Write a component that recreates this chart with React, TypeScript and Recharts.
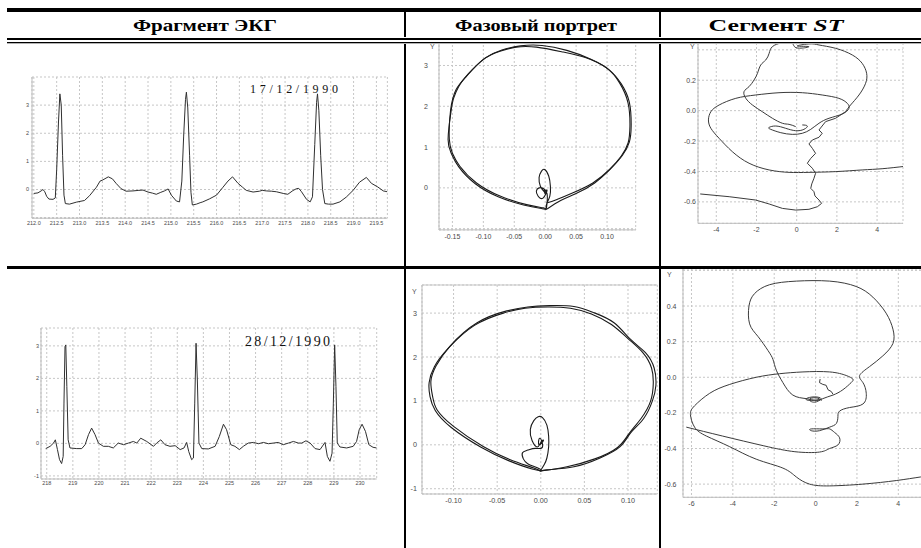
import React from 'react';
import { LineChart, Line, XAxis, YAxis, CartesianGrid, ReferenceLine } from 'recharts';

type Pt = [number, number];

// ---------- column headers ----------
const headers = ['Фрагмент ЭКГ', 'Фазовый портрет', 'Сегмент '];
const dateLabels = ['17/12/1990', '28/12/1990'];

// ---------- ECG fragment 1 (time, mV) ----------
const ecg1: Pt[] = [
  [212.0,-0.14],[212.09,-0.12],[212.16,-0.05],[212.2,0.0],[212.24,-0.08],[212.28,-0.24],[212.33,-0.34],[212.42,-0.35],
  [212.47,-0.3],[212.5,0.7],[212.54,2.4],[212.57,3.4],[212.6,3.0],[212.63,1.2],[212.66,-0.2],[212.69,-0.5],[212.78,-0.52],
  [212.93,-0.45],[213.11,-0.39],[213.22,-0.22],[213.37,0.08],[213.45,0.3],[213.51,0.34],[213.63,0.45],[213.72,0.38],
  [213.8,0.22],[213.91,0.03],[214.02,-0.06],[214.17,-0.05],[214.3,-0.03],[214.39,-0.02],[214.5,-0.09],[214.6,-0.13],
  [214.68,-0.17],[214.78,-0.1],[214.86,-0.05],[214.94,0.02],[215.01,-0.2],[215.12,-0.41],[215.19,-0.44],[215.24,0.3],
  [215.28,1.9],[215.32,3.2],[215.34,3.46],[215.37,2.9],[215.41,1.2],[215.44,-0.1],[215.47,-0.55],[215.56,-0.52],
  [215.64,-0.47],[215.7,-0.44],[215.85,-0.33],[216.0,-0.2],[216.14,0.08],[216.25,0.3],[216.35,0.45],[216.47,0.22],
  [216.57,0.08],[216.65,-0.03],[216.8,-0.09],[216.94,-0.06],[217.0,-0.03],[217.09,-0.05],[217.2,-0.06],[217.31,-0.08],
  [217.46,-0.14],[217.56,-0.17],[217.67,-0.04],[217.75,0.03],[217.8,0.04],[217.86,-0.08],[217.97,-0.35],[218.05,-0.44],
  [218.1,-0.26],[218.15,1.6],[218.19,3.1],[218.21,3.4],[218.24,2.8],[218.28,1.2],[218.32,0.0],[218.37,-0.5],[218.45,-0.52],
  [218.55,-0.52],[218.7,-0.44],[218.84,-0.27],[218.99,-0.03],[219.13,0.26],[219.28,0.43],[219.39,0.22],[219.53,0.09],
  [219.65,-0.05],[219.74,-0.08],
];
const ecg1XTicks = [212,212.5,213,213.5,214,214.5,215,215.5,216,216.5,217,217.5,218,218.5,219,219.5];
const ecg1YTicks = [-1,0,1,2,3];

// ---------- ECG fragment 2 ----------
const ecg2: Pt[] = [
  [217.96,-0.16],[218.13,-0.09],[218.26,0.01],[218.33,0.11],[218.41,-0.19],[218.49,-0.5],[218.57,-0.62],[218.63,-0.4],
  [218.66,1.24],[218.7,2.98],[218.73,3.03],[218.77,1.75],[218.82,0.11],[218.89,-0.14],[219.15,-0.16],[219.34,-0.16],
  [219.47,-0.04],[219.6,0.27],[219.72,0.47],[219.85,0.27],[219.98,0.01],[220.17,-0.09],[220.36,-0.09],[220.55,-0.14],
  [220.74,0.01],[220.94,-0.04],[221.13,0.01],[221.32,0.06],[221.45,0.01],[221.6,0.16],[221.83,0.06],[222.09,-0.09],
  [222.21,0.01],[222.37,0.11],[222.53,-0.04],[222.72,-0.09],[222.92,-0.07],[223.11,-0.19],[223.26,-0.14],[223.36,0.03],
  [223.44,-0.25],[223.55,-0.5],[223.62,-0.45],[223.67,1.24],[223.72,3.08],[223.77,1.95],[223.83,0.01],[223.94,-0.16],
  [224.19,-0.17],[224.45,-0.09],[224.61,0.21],[224.77,0.59],[224.89,0.42],[225.05,-0.04],[225.21,-0.09],[225.38,-0.19],
  [225.53,-0.09],[225.72,0.01],[225.92,0.03],[226.11,-0.01],[226.3,0.03],[226.49,-0.01],[226.68,0.01],[226.87,0.03],
  [227.06,-0.04],[227.26,0.01],[227.45,0.06],[227.64,0.01],[227.77,0.01],[227.93,0.08],[228.09,0.01],[228.28,-0.16],
  [228.47,-0.19],[228.66,0.03],[228.75,-0.4],[228.85,-0.55],[228.93,-0.3],[228.98,1.24],[229.03,3.03],[229.08,1.75],
  [229.13,0.01],[229.23,-0.11],[229.49,-0.14],[229.74,-0.09],[229.87,0.06],[229.97,0.42],[230.08,0.59],[230.21,0.37],
  [230.34,-0.04],[230.5,-0.12],[230.64,-0.14],
];
const ecg2XTicks = [218,219,220,221,222,223,224,225,226,227,228,229,230];
const ecg2YTicks = [-1,0,1,2,3];

// ---------- phase portrait 1 (dY, Y) ----------
const phase1LoopA: Pt[] = [
  [0.002,-0.37],[0.018,-0.29],[0.045,-0.12],[0.077,0.12],[0.104,0.45],[0.123,0.78],[0.134,1.1],[0.137,1.51],[0.134,2.08],
  [0.12,2.58],[0.099,2.94],[0.066,3.19],[0.029,3.33],[-0.014,3.45],[-0.047,3.45],[-0.073,3.35],[-0.1,3.15],[-0.127,2.74],
  [-0.144,2.41],[-0.153,1.9],[-0.155,1.19],[-0.15,0.85],[-0.138,0.53],[-0.111,0.12],[-0.073,-0.2],[-0.03,-0.41],
  [-0.003,-0.49],[0.002,-0.53],
];
const phase1LoopB: Pt[] = [
  [0.003,-0.52],[0.025,-0.31],[0.05,-0.14],[0.08,0.12],[0.106,0.47],[0.125,0.8],[0.136,1.12],[0.139,1.52],[0.136,2.1],
  [0.123,2.55],[0.103,2.9],[0.073,3.16],[0.035,3.37],[-0.005,3.49],[-0.04,3.48],[-0.07,3.38],[-0.097,3.18],[-0.124,2.8],
  [-0.14,2.48],[-0.148,2.2],[-0.152,1.9],[-0.157,1.2],[-0.152,0.85],[-0.14,0.52],[-0.113,0.1],[-0.076,-0.22],
  [-0.035,-0.42],[-0.005,-0.51],[0.002,-0.53],
];
const phase1Small: Pt[] = [
  [0.002,-0.53],[0.002,-0.41],[0.0075,-0.2],[0.0084,0.04],[0.0057,0.29],[-0.0008,0.45],[-0.006,0.41],[-0.0099,0.25],
  [-0.0078,0.04],[-0.0024,-0.08],[0.001,-0.14],[-0.002,-0.05],[0.002,-0.1],[-0.001,-0.12],[0.003,-0.06],[-0.0035,-0.25],
  [-0.0116,-0.2],[-0.0143,-0.08],[-0.0099,0.0],[-0.0024,-0.02],[0.003,-0.14],[0.003,-0.37],[0.002,-0.49],
];
const phase1XTicks = [-0.15,-0.1,-0.05,0,0.05,0.1];
const phase1YTicks = [-1,0,1,2,3];

// ---------- phase portrait 2 ----------
const phase2LoopA: Pt[] = [
  [0.0,-0.61],[0.007,-0.57],[0.038,-0.5],[0.068,-0.3],[0.091,-0.04],[0.103,0.27],[0.118,0.6],[0.128,1.0],[0.132,1.35],
  [0.13,1.75],[0.12,2.1],[0.103,2.4],[0.084,2.78],[0.061,3.01],[0.038,3.15],[0.01,3.17],[-0.015,3.14],[-0.039,3.05],
  [-0.073,2.78],[-0.104,2.25],[-0.12,1.8],[-0.126,1.45],[-0.124,1.1],[-0.119,0.8],[-0.1,0.42],[-0.066,-0.04],
  [-0.035,-0.34],[-0.008,-0.53],[0.0,-0.61],
];
const phase2LoopB: Pt[] = [
  [0.002,-0.59],[0.03,-0.5],[0.062,-0.32],[0.088,-0.06],[0.101,0.25],[0.115,0.6],[0.126,1.0],[0.129,1.4],[0.127,1.75],
  [0.117,2.1],[0.1,2.42],[0.081,2.74],[0.058,2.98],[0.034,3.11],[0.008,3.14],[-0.018,3.11],[-0.043,3.0],[-0.076,2.72],
  [-0.106,2.2],[-0.122,1.78],[-0.128,1.42],[-0.127,1.1],[-0.121,0.78],[-0.103,0.4],[-0.069,-0.05],[-0.037,-0.36],
  [-0.01,-0.55],[0.002,-0.59],
];
const phase2Small: Pt[] = [
  [0.0,-0.58],[0.004,-0.45],[0.007,-0.3],[0.009,-0.05],[0.009,0.2],[0.007,0.45],[0.002,0.62],[-0.003,0.64],[-0.008,0.55],
  [-0.012,0.35],[-0.01,0.1],[-0.004,-0.05],[0.0,0.05],[0.003,0.1],[-0.002,0.0],[-0.001,0.15],[0.002,-0.05],[-0.006,-0.08],
  [-0.015,-0.12],[-0.021,-0.18],[-0.02,-0.32],[-0.015,-0.43],[-0.007,-0.5],[0.0,-0.56],
];
const phase2XTicks = [-0.1,-0.05,0,0.05,0.1];
const phase2YTicks = [-1,0,1,2,3];

// ---------- ST segment 1 ----------
const st1Tail: Pt[] = [
  [-4.8,-0.548],[-3.36,-0.566],[-2.04,-0.588],[-1.37,-0.614],[-0.71,-0.643],[-0.05,-0.654],[0.61,-0.649],[1.03,-0.632],
  [1.24,-0.61],[1.11,-0.588],[0.91,-0.561],[0.86,-0.533],[0.7,-0.511],[0.75,-0.482],[0.86,-0.445],[0.94,-0.412],
  [0.78,-0.379],[0.53,-0.346],[0.7,-0.314],[0.94,-0.281],[0.78,-0.248],[0.61,-0.219],[0.78,-0.193],[1.11,-0.175],
  [1.27,-0.149],[1.11,-0.127],[1.44,-0.072],[1.94,-0.05],[2.43,-0.007],
];
const st1Upper: Pt[] = [
  [2.43,-0.007],[2.68,0.037],[3.1,0.103],[3.43,0.18],[3.48,0.246],[3.26,0.311],[2.77,0.366],[1.94,0.41],[1.11,0.432],
  [0.61,0.439],[0.03,0.425],[0.61,0.421],[0.03,0.412],[-0.22,0.443],[-0.71,0.447],[-1.21,0.421],[-1.37,0.377],
  [-1.54,0.333],[-1.79,0.3],[-1.95,0.246],[-2.12,0.202],[-2.37,0.158],[-2.62,0.125],[-2.53,0.081],[-2.2,0.037],
  [-1.71,-0.007],[-1.21,-0.05],[-0.71,-0.083],[-0.38,-0.09],[-0.05,-0.105],
];
const st1Loop: Pt[] = [
  [5.4,-0.366],[4.25,-0.382],[3.26,-0.39],[1.94,-0.401],[0.61,-0.406],[-0.38,-0.406],[-1.37,-0.39],[-2.37,-0.346],
  [-3.2,-0.27],[-3.86,-0.182],[-4.27,-0.116],[-4.39,-0.061],[-4.27,-0.007],[-3.86,0.037],[-3.03,0.081],[-2.04,0.103],
  [-0.88,0.118],[0.28,0.118],[1.27,0.103],[2.1,0.081],[2.52,0.048],[2.6,0.015],[2.27,-0.022],[1.61,-0.05],[1.11,-0.083],
  [0.7,-0.123],[0.28,-0.149],[-0.22,-0.156],[-0.79,-0.145],[-1.29,-0.123],[-1.37,-0.11],[-1.04,-0.101],[-0.55,-0.116],
  [-0.05,-0.132],[0.36,-0.123],[0.53,-0.101],[0.28,-0.094],
];
const st1XTicks = [-4,-2,0,2,4];
const st1YTicks = [-0.6,-0.4,-0.2,0,0.2,0.4];

// ---------- ST segment 2 ----------
const st2Upper: Pt[] = [
  [-6.25,-0.28],[-4.5,-0.33],[-2.5,-0.385],[-1.0,-0.418],[0.19,-0.42],[0.68,-0.4],[1.08,-0.38],[1.16,-0.34],[0.92,-0.31],
  [0.68,-0.29],[0.35,-0.29],[-0.21,-0.29],[-0.21,-0.3],[0.19,-0.3],[0.68,-0.28],[1.0,-0.26],[1.08,-0.22],[1.16,-0.19],
  [1.64,-0.17],[2.29,-0.15],[2.45,-0.09],[2.29,-0.03],[2.13,0.01],[2.61,0.06],[3.25,0.12],[3.74,0.19],[3.74,0.27],
  [3.41,0.36],[2.77,0.45],[1.96,0.51],[0.68,0.54],[-0.93,0.54],[-2.22,0.52],[-2.95,0.47],[-3.22,0.4],[-3.19,0.3],
  [-2.79,0.23],[-2.3,0.15],[-2.06,0.1],[-1.9,0.04],[-1.58,-0.03],[-1.1,-0.1],[-0.45,-0.12],[0.03,-0.13],[0.27,-0.12],
  [-0.05,-0.11],[-0.45,-0.12],[-0.29,-0.13],[0.2,-0.125],
];
const st2Lower: Pt[] = [
  [6.0,-0.545],[5.07,-0.56],[3.9,-0.58],[2.29,-0.6],[0.68,-0.61],[-0.29,-0.6],[-0.93,-0.56],[-1.58,-0.51],[-2.87,-0.46],
  [-4.15,-0.39],[-5.28,-0.33],[-5.85,-0.28],[-6.05,-0.21],[-5.85,-0.16],[-5.12,-0.09],[-4.15,-0.04],[-2.87,0.0],
  [-1.74,0.02],[-0.61,0.03],[0.68,0.03],[1.48,0.01],[1.8,-0.01],[1.72,-0.03],[1.32,-0.07],[0.84,-0.1],[0.35,-0.12],
  [-0.05,-0.14],[-0.3,-0.125],[0.0,-0.115],[0.3,-0.13],
];
const st2Jag: Pt[] = [
  [0.22,-0.01],[0.19,-0.03],[0.35,-0.04],[0.51,-0.045],[0.6,-0.07],[0.76,-0.08],[0.84,-0.095],
];
const st2XTicks = [-6,-4,-2,0,2,4];
const st2YTicks = [-0.6,-0.4,-0.2,0,0.2,0.4,0.6];

// ---------- generic plot ----------
type Box = { x: number; y: number; w: number; h: number };
type Rect = { x0: number; y0: number; x1: number; y1: number };
type Series = { pts: Pt[]; color: string; width: number; curve?: 'linear' | 'natural' };

const SANS = "'Liberation Sans', Arial, sans-serif";
const SERIF = "'Liberation Serif', 'Times New Roman', serif";

function Plot(p: {
  cell: Box; plot: Rect; xDomain: [number, number]; yDomain: [number, number];
  xTicks: number[]; yTicks: number[]; xFmt: (v: number) => string; yFmt: (v: number) => string;
  series: Series[]; fontSize: number; xGap: number; yGap: number; topBorder?: number;
}) {
  const L = 60, T = 20, R = 20, B = 40;
  const w = p.plot.x1 - p.plot.x0 + L + R;
  const h = p.plot.y1 - p.plot.y0 + T + B;
  const left = p.plot.x0 - L - p.cell.x;
  const top = p.plot.y0 - T - p.cell.y;
  const tickStyle = { fontSize: p.fontSize, fill: '#4a4a4a', fontFamily: SANS };
  return (
    <div style={{ position: 'absolute', left: p.cell.x, top: p.cell.y, width: p.cell.w, height: p.cell.h, overflow: 'hidden' }}>
      <div style={{ position: 'absolute', left, top }}>
        <LineChart width={w} height={h} margin={{ top: T, right: R, bottom: 0, left: 0 }}>
          <CartesianGrid stroke="#c6c6c6" strokeDasharray="2 2" />
          <XAxis type="number" dataKey="x" domain={p.xDomain} ticks={p.xTicks} allowDataOverflow interval={0}
            height={B} tickLine={false} tickSize={0} tickMargin={p.xGap} tickFormatter={p.xFmt}
            axisLine={{ stroke: '#bdbdbd' }} tick={tickStyle} />
          <YAxis type="number" domain={p.yDomain} ticks={p.yTicks} allowDataOverflow interval={0}
            width={L} tickLine={false} tickSize={0} tickMargin={p.yGap} tickFormatter={p.yFmt}
            axisLine={{ stroke: '#bdbdbd' }} tick={tickStyle} />
          {p.topBorder !== undefined && (
            <ReferenceLine y={p.topBorder} stroke="#c6c6c6" strokeWidth={1} />
          )}
          {p.series.map((s, i) => (
            <Line key={i} data={s.pts.map(([x, y]) => ({ x, y }))} dataKey="y" type={s.curve ?? 'linear'} dot={false}
              activeDot={false} stroke={s.color} strokeWidth={s.width} isAnimationActive={false} />
          ))}
        </LineChart>
      </div>
    </div>
  );
}

const f1 = (v: number) => v.toFixed(1);
const f2 = (v: number) => v.toFixed(2);
const fi = (v: number) => String(Math.round(v));
const hideBelowZero = (v: number) => (v < 0 ? '' : String(Math.round(v)));

export default function App() {
  const c11 = { x: 7, y: 44, w: 396, h: 222 };
  const c12 = { x: 406, y: 44, w: 253, h: 222 };
  const c13 = { x: 661, y: 44, w: 260, h: 222 };
  const c21 = { x: 7, y: 269, w: 396, h: 279 };
  const c22 = { x: 406, y: 269, w: 253, h: 279 };
  const c23 = { x: 661, y: 269, w: 260, h: 279 };
  const ecgColor = '#2f2f2f';
  const loopColor = '#1a1a1a';
  const stColor = '#3a3a3a';
  return (
    <div style={{ position: 'absolute', left: 0, top: 0, width: 921, height: 548, overflow: 'hidden', background: '#fff' }}>
      <Plot cell={c11} plot={{ x0: 32.3, y0: 76.5, x1: 387.7, y1: 217.7 }} xDomain={[211.96, 219.74]} yDomain={[-1.02, 4.0]}
        xTicks={ecg1XTicks} yTicks={ecg1YTicks} xFmt={f1} yFmt={hideBelowZero}
        series={[{ pts: ecg1, color: ecgColor, width: 1 }]} fontSize={5.5} xGap={3} yGap={3} />
      <Plot cell={c21} plot={{ x0: 41, y0: 328.3, x1: 376.7, y1: 479.3 }} xDomain={[217.78, 230.64]} yDomain={[-1.095, 3.55]}
        xTicks={ecg2XTicks} yTicks={ecg2YTicks} xFmt={fi} yFmt={fi}
        series={[{ pts: ecg2, color: ecgColor, width: 1 }]} fontSize={5.5} xGap={2} yGap={2} />
      <Plot cell={c12} plot={{ x0: 439.3, y0: 41.4, x1: 636, y1: 230.3 }} xDomain={[-0.1717, 0.1463]} yDomain={[-1.03, 3.6]}
        xTicks={phase1XTicks} yTicks={phase1YTicks} xFmt={f2} yFmt={hideBelowZero}
        series={[
          { pts: phase1LoopA, color: loopColor, width: 1.1, curve: 'natural' },
          { pts: phase1LoopB, color: loopColor, width: 1.1, curve: 'natural' },
          { pts: phase1Small, color: loopColor, width: 1.1, curve: 'natural' },
        ]} fontSize={7} xGap={4} yGap={11} />
      <Plot cell={c22} plot={{ x0: 421.7, y0: 285, x1: 657, y1: 494 }} xDomain={[-0.1362, 0.1336]} yDomain={[-1.12, 3.64]}
        xTicks={phase2XTicks} yTicks={phase2YTicks} xFmt={f2} yFmt={fi} topBorder={3.64}
        series={[
          { pts: phase2LoopA, color: loopColor, width: 1.1, curve: 'natural' },
          { pts: phase2LoopB, color: loopColor, width: 1.1, curve: 'natural' },
          { pts: phase2Small, color: loopColor, width: 1.1, curve: 'natural' },
        ]} fontSize={7.2} xGap={3.5} yGap={5} />
      <Plot cell={c13} plot={{ x0: 698.3, y0: 43, x1: 903.3, y1: 223.3 }} xDomain={[-4.91, 5.29]} yDomain={[-0.741, 0.445]}
        xTicks={st1XTicks} yTicks={st1YTicks} xFmt={fi} yFmt={(v) => (v > 0.3 ? '' : f1(v))}
        series={[
          { pts: st1Tail, color: stColor, width: 1 },
          { pts: st1Upper, color: stColor, width: 1, curve: 'natural' },
          { pts: st1Loop, color: stColor, width: 1, curve: 'natural' },
        ]} fontSize={7} xGap={3.5} yGap={2} />
      <Plot cell={c23} plot={{ x0: 683.3, y0: 269, x1: 940, y1: 497.3 }} xDomain={[-6.41, 6.0]} yDomain={[-0.674, 0.608]}
        xTicks={st2XTicks} yTicks={st2YTicks} xFmt={fi} yFmt={(v) => (v > 0.5 ? '' : f1(v))}
        series={[
          { pts: st2Upper, color: stColor, width: 1, curve: 'natural' },
          { pts: st2Lower, color: stColor, width: 1, curve: 'natural' },
          { pts: st2Jag, color: stColor, width: 1 },
        ]} fontSize={7} xGap={3.5} yGap={6.5} />

      <svg width={921} height={548} style={{ position: 'absolute', left: 0, top: 0, pointerEvents: 'none' }}>
        {/* table rules */}
        <rect x={7} y={8} width={914} height={4} fill="#000" />
        <rect x={404} y={12} width={2} height={536} fill="#000" />
        <rect x={659} y={12} width={2} height={536} fill="#000" />
        <rect x={7} y={37} width={914} height={7} fill="#fff" />
        <rect x={7} y={38} width={914} height={2} fill="#000" />
        <rect x={7} y={42} width={914} height={1.3} fill="#000" />
        <rect x={7} y={266} width={914} height={3} fill="#000" />
        {/* headers */}
        <text x={205} y={31} textAnchor="middle" fontFamily={SERIF} fontWeight="bold" fontSize={17.5}
          textLength={144} lengthAdjust="spacingAndGlyphs">{headers[0]}</text>
        <text x={536} y={31} textAnchor="middle" fontFamily={SERIF} fontWeight="bold" fontSize={17.5}
          textLength={162} lengthAdjust="spacingAndGlyphs">{headers[1]}</text>
        <text x={776} y={31} textAnchor="middle" fontFamily={SERIF} fontWeight="bold" fontSize={17.5}
          textLength={135} lengthAdjust="spacingAndGlyphs">{headers[2]}<tspan fontStyle="italic">ST</tspan></text>
        {/* dates */}
        <text x={250} y={93.3} fontFamily={SERIF} fontSize={12} fill="#111" textLength={88} lengthAdjust="spacing">{dateLabels[0]}</text>
        <text x={245} y={346} fontFamily={SERIF} fontSize={14} fill="#111" textLength={85} lengthAdjust="spacing">{dateLabels[1]}</text>
        {/* axis name labels */}
        <text x={432.3} y={48.5} textAnchor="middle" fontFamily={SANS} fontSize={7} fill="#555">Y</text>
        <text x={414.3} y={294.2} textAnchor="middle" fontFamily={SANS} fontSize={7} fill="#555">Y</text>
        <text x={692.3} y={48.5} textAnchor="middle" fontFamily={SANS} fontSize={7} fill="#555">Y</text>
        <text x={669.3} y={276.5} textAnchor="middle" fontFamily={SANS} fontSize={7} fill="#555">Y</text>
      </svg>
    </div>
  );
}
